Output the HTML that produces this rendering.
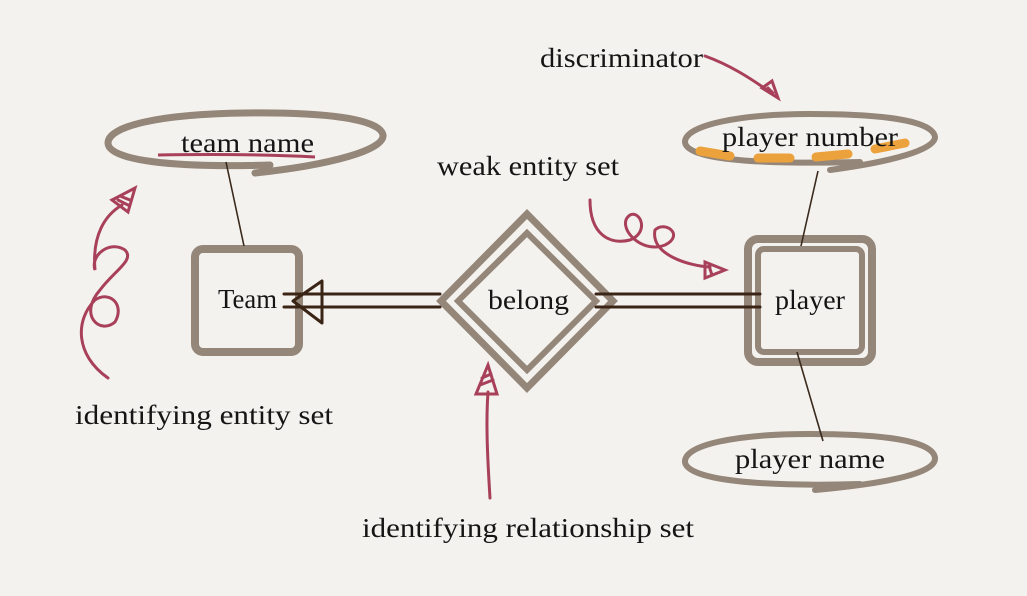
<!DOCTYPE html>
<html><head><meta charset="utf-8"><style>
html,body{margin:0;padding:0;background:#f4f2ee;}
svg{display:block}
text{font-family:"Liberation Serif",serif;fill:#151515;font-size:27px}
</style></head><body>
<svg width="1027" height="596" viewBox="0 0 1027 596" xmlns="http://www.w3.org/2000/svg">
<rect width="1027" height="596" fill="#f4f2ee"/>
<g fill="none" stroke="#948679" stroke-linecap="round">
 <path d="M255 173 C330 165 385 150 383 135 C380 118 320 112 245 113 C160 114 108 126 108 143 C108 160 170 168 270 165" stroke-width="7"/>
 <rect x="195" y="249" width="104" height="103" rx="8" stroke-width="8"/>
 <path d="M527 214 L613 301 L527 388 L441 301 Z" stroke-width="7" stroke-linejoin="miter"/>
 <path d="M527 233 L596 301 L527 370 L458 301 Z" stroke-width="6"/>
 <rect x="748" y="239" width="124" height="123" rx="10" stroke-width="8"/>
 <rect x="758" y="249" width="104" height="103" rx="6" stroke-width="6"/>
 <path d="M830 170 C890 162 935 150 935 137 C933 120 880 114 810 114 C740 114 685 125 685 142 C686 158 745 165 860 162" stroke-width="6"/>
 <path d="M815 490 C890 483 936 473 935 458 C933 440 880 434 810 434 C735 434 684 445 685 462 C687 480 760 487 860 484" stroke-width="6"/>
</g>
<g stroke="#3a2a1e" stroke-width="1.6" fill="none">
 <line x1="226" y1="162" x2="244" y2="246"/>
 <line x1="818" y1="171" x2="801" y2="246"/>
 <line x1="797" y1="352" x2="823" y2="441"/>
</g>
<g stroke="#3a2416" stroke-width="3" fill="none" stroke-linecap="round">
 <line x1="284" y1="294" x2="440" y2="294"/>
 <line x1="284" y1="307" x2="440" y2="307"/>
 <line x1="596" y1="294" x2="760" y2="294"/>
 <line x1="596" y1="307" x2="760" y2="307"/>
 <path d="M293 301 L322 281 L322 323 Z" stroke-linejoin="round"/>
</g>
<g stroke="#eba23c" stroke-width="9" stroke-linecap="round">
 <line x1="700" y1="151" x2="730" y2="156"/>
 <line x1="758" y1="158" x2="790" y2="158"/>
 <line x1="816" y1="157" x2="848" y2="154"/>
 <line x1="875" y1="149" x2="905" y2="143"/>
</g>
<path d="M158 155 C220 154 280 155 315 157" stroke="#a8405a" stroke-width="3" fill="none"/>
<g stroke="#a8405a" stroke-width="3" fill="none" stroke-linecap="round">
 <path d="M108 378 C75 355 75 320 95 300 C110 290 125 305 115 322 C100 335 78 315 100 290 C115 270 135 260 125 250 C110 240 90 255 95 270 C92 235 105 215 122 205"/>
 <path d="M112 200 L135 188 L128 212 Z M118 200 L128 205 M120 196 L130 200"/>
 <path d="M490 498 C487 450 486 420 488 392"/>
 <path d="M476 394 L488 365 L497 394 Z M480 385 L493 380 M482 378 L491 374"/>
 <path d="M590 200 C590 235 610 245 630 240 C650 232 640 210 630 215 C615 225 640 255 665 245 C685 235 665 220 655 230 C650 255 690 266 710 267"/>
 <path d="M705 262 L725 270 L705 278 Z M709 266 L712 275"/>
 <path d="M705 56 C730 65 750 78 770 92"/>
 <path d="M762 88 L778 98 L772 81 Z M768 88 L773 93"/>
</g>
<text x="540" y="67" textLength="163" lengthAdjust="spacingAndGlyphs">discriminator</text>
<text x="437" y="175" textLength="182" lengthAdjust="spacingAndGlyphs">weak entity set</text>
<text x="75" y="424" textLength="258" lengthAdjust="spacingAndGlyphs">identifying entity set</text>
<text x="362" y="537" textLength="332" lengthAdjust="spacingAndGlyphs">identifying relationship set</text>
<text x="181" y="152" textLength="133" lengthAdjust="spacingAndGlyphs">team name</text>
<text x="218" y="308" textLength="59" lengthAdjust="spacingAndGlyphs" font-size="25">Team</text>
<text x="488" y="309" textLength="81" lengthAdjust="spacingAndGlyphs">belong</text>
<text x="775" y="309" textLength="70" lengthAdjust="spacingAndGlyphs" font-size="25">player</text>
<text x="722" y="146" textLength="176" lengthAdjust="spacingAndGlyphs">player number</text>
<text x="735" y="468" textLength="150" lengthAdjust="spacingAndGlyphs">player name</text>
</svg>
</body></html>
